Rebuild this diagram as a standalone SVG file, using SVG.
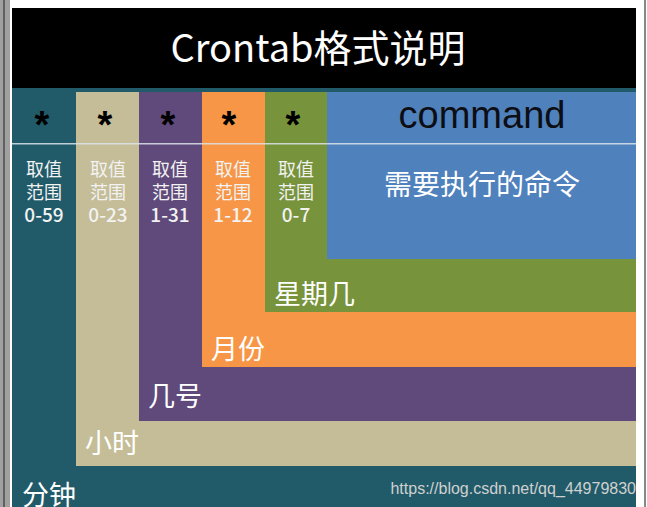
<svg xmlns="http://www.w3.org/2000/svg" width="647" height="507" viewBox="0 0 647 507">
<style>
.cn{font-family:"Noto Sans CJK SC","Noto Sans",sans-serif;fill:#fff}
.big{font-size:27px}
.col{font-size:18px;fill:#f2f2f2;text-anchor:middle}
.num{font-size:19px;font-weight:500}
.star{font-family:"Liberation Sans",sans-serif;font-size:38px;font-weight:bold;fill:#000;text-anchor:middle}
</style>
<rect width="647" height="507" fill="#fff"/>
<rect x="0" y="0" width="10" height="507" fill="#a0a0a0"/>
<rect x="3" y="0" width="2" height="507" fill="#606060"/>
<rect x="644" y="0" width="2" height="507" fill="#888"/>
<g id="header">
<rect x="12" y="8" width="624" height="80" fill="#000"/>
<text x="318" y="62" class="cn" font-size="38" text-anchor="middle">Crontab格式说明</text>
</g>
<g id="minute">
<rect x="12" y="88" width="624" height="419" fill="#215B69"/>
<text x="42" y="138" class="star">*</text>
<text class="cn col"><tspan x="44" y="176">取值</tspan><tspan x="44" y="199">范围</tspan><tspan x="44" y="222" class="num">0-59</tspan></text>
<text x="22" y="505" class="cn big">分钟</text>
</g>
<g id="hour">
<rect x="76" y="92" width="560" height="374" fill="#C4BD97"/>
<text x="105" y="138" class="star">*</text>
<text class="cn col"><tspan x="108" y="176">取值</tspan><tspan x="108" y="199">范围</tspan><tspan x="108" y="222" class="num">0-23</tspan></text>
<text x="85" y="453" class="cn big">小时</text>
</g>
<g id="day">
<rect x="139" y="92" width="497" height="329" fill="#604A7B"/>
<text x="168" y="138" class="star">*</text>
<text class="cn col"><tspan x="170" y="176">取值</tspan><tspan x="170" y="199">范围</tspan><tspan x="170" y="222" class="num">1-31</tspan></text>
<text x="148" y="406" class="cn big">几号</text>
</g>
<g id="month">
<rect x="202" y="92" width="434" height="275" fill="#F79646"/>
<text x="229" y="138" class="star">*</text>
<text class="cn col"><tspan x="233" y="176">取值</tspan><tspan x="233" y="199">范围</tspan><tspan x="233" y="222" class="num">1-12</tspan></text>
<text x="211" y="359" class="cn big">月份</text>
</g>
<g id="weekday">
<rect x="265" y="92" width="371" height="220" fill="#77933C"/>
<text x="293" y="138" class="star">*</text>
<text class="cn col"><tspan x="296" y="176">取值</tspan><tspan x="296" y="199">范围</tspan><tspan x="296" y="222" class="num">0-7</tspan></text>
<text x="274" y="304" class="cn big">星期几</text>
</g>
<g id="command">
<rect x="327" y="92" width="309" height="167" fill="#4F81BD"/>
<text x="482" y="128" font-family="Liberation Sans,sans-serif" font-size="38" fill="#0d0d14" text-anchor="middle">command</text>
<text x="482" y="195" class="cn" font-size="28" text-anchor="middle">需要执行的命令</text>
</g>
<rect x="12" y="143" width="624" height="1.5" fill="#dce3ea" opacity="0.85"/>
<text x="636" y="494" font-family="Liberation Sans,sans-serif" font-size="16" fill="#d0d0d0" text-anchor="end">https://blog.csdn.net/qq_44979830</text>
</svg>
